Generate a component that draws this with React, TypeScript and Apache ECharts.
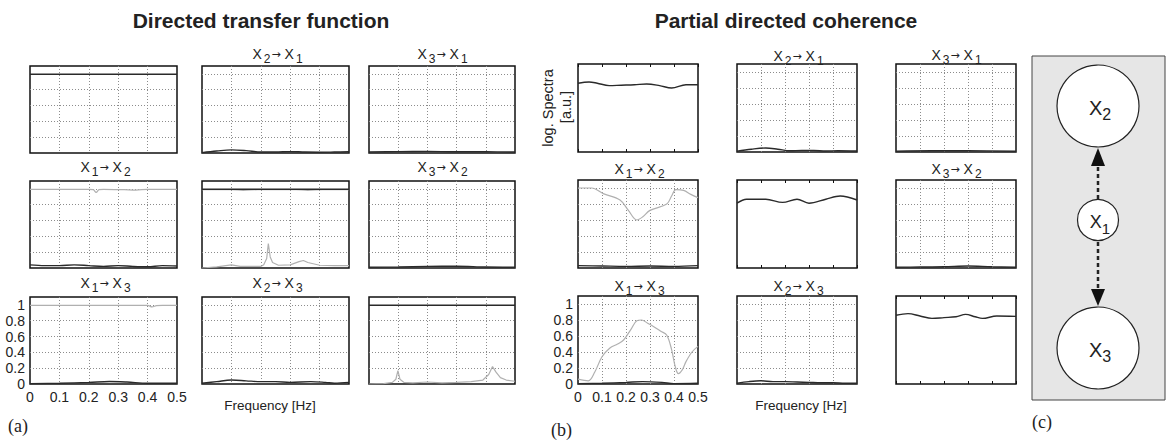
import React, { useEffect, useRef } from 'react';
import * as echarts from 'echarts';

type Pair = [number, number];

// ---------- data: [frequency (Hz), value] ----------
const freqTickLabels = ['0', '0.1', '0.2', '0.3', '0.4', '0.5'];
const valueTickLabels = ['0', '0.2', '0.4', '0.6', '0.8', '1'];

// Directed transfer function
const dtf11Dark: Pair[] = [[0, 0.995], [0.5, 0.995]];
const dtf21Dark: Pair[] = [[0, 0.005], [0.05, 0.025], [0.1, 0.04], [0.15, 0.03], [0.2, 0.012], [0.25, 0.012], [0.3, 0.018], [0.35, 0.012], [0.4, 0.01], [0.45, 0.012], [0.5, 0.015]];
const dtf31Dark: Pair[] = [[0, 0.012], [0.1, 0.018], [0.2, 0.02], [0.3, 0.015], [0.4, 0.015], [0.5, 0.012]];
const dtf12Gray: Pair[] = [[0, 0.995], [0.2, 0.995], [0.215, 0.99], [0.225, 0.955], [0.235, 0.99], [0.25, 0.995], [0.32, 0.99], [0.36, 0.985], [0.4, 0.995], [0.5, 0.995]];
const dtf12Dark: Pair[] = [[0, 0.04], [0.05, 0.03], [0.1, 0.03], [0.15, 0.04], [0.2, 0.03], [0.25, 0.02], [0.3, 0.03], [0.35, 0.02], [0.4, 0.015], [0.45, 0.03], [0.5, 0.025]];
const dtf22Dark: Pair[] = [[0, 0.995], [0.5, 0.995]];
const dtf22GrayTop: Pair[] = [[0, 0.99], [0.1, 0.99], [0.14, 0.982], [0.19, 0.99], [0.32, 0.99], [0.36, 0.982], [0.41, 0.99], [0.5, 0.99]];
const dtf22Gray: Pair[] = [[0, 0.0], [0.05, 0.015], [0.1, 0.04], [0.13, 0.02], [0.2, 0.02], [0.21, 0.04], [0.22, 0.12], [0.2256, 0.31], [0.232, 0.14], [0.24, 0.07], [0.26, 0.035], [0.3, 0.04], [0.33, 0.08], [0.345, 0.095], [0.36, 0.07], [0.4, 0.035], [0.45, 0.03], [0.5, 0.03]];
const dtf32Dark: Pair[] = [[0, 0.01], [0.1, 0.012], [0.2, 0.02], [0.3, 0.022], [0.4, 0.012], [0.5, 0.01]];
const dtf13Gray: Pair[] = [[0, 0.995], [0.4, 0.995], [0.415, 0.975], [0.43, 0.99], [0.45, 0.995], [0.5, 0.995]];
const dtf13Dark: Pair[] = [[0, 0.005], [0.1, 0.01], [0.2, 0.02], [0.27, 0.032], [0.33, 0.025], [0.4, 0.01], [0.5, 0.01]];
const dtf23Dark: Pair[] = [[0, 0.01], [0.05, 0.03], [0.1, 0.05], [0.15, 0.04], [0.2, 0.03], [0.25, 0.03], [0.3, 0.02], [0.37, 0.03], [0.42, 0.02], [0.45, 0.01], [0.5, 0.02]];
const dtf33Dark: Pair[] = [[0, 0.995], [0.5, 0.995]];
const dtf33Gray: Pair[] = [[0, 0.0], [0.05, 0.005], [0.08, 0.02], [0.092, 0.06], [0.099, 0.17], [0.106, 0.06], [0.12, 0.02], [0.15, 0.015], [0.2, 0.025], [0.25, 0.015], [0.3, 0.02], [0.35, 0.03], [0.39, 0.05], [0.41, 0.12], [0.423, 0.22], [0.435, 0.15], [0.45, 0.08], [0.47, 0.05], [0.5, 0.035]];

// Partial directed coherence
const pdc11Spec: Pair[] = [[0, 0.86], [0.046, 0.875], [0.08, 0.86], [0.13, 0.83], [0.18, 0.835], [0.235, 0.84], [0.286, 0.85], [0.34, 0.83], [0.39, 0.8], [0.45, 0.84], [0.5, 0.84]];
const pdc21Dark: Pair[] = [[0, 0.01], [0.06, 0.035], [0.12, 0.05], [0.17, 0.035], [0.22, 0.015], [0.27, 0.02], [0.32, 0.02], [0.37, 0.012], [0.42, 0.015], [0.5, 0.012]];
const pdc31Dark: Pair[] = [[0, 0.01], [0.15, 0.015], [0.3, 0.015], [0.5, 0.01]];
const pdc12Gray: Pair[] = [[0, 1.0], [0.057, 1.0], [0.105, 0.93], [0.175, 0.85], [0.21, 0.72], [0.245, 0.6], [0.27, 0.64], [0.3, 0.72], [0.37, 0.8], [0.39, 0.9], [0.408, 0.98], [0.44, 0.97], [0.47, 0.92], [0.5, 0.88]];
const pdc12Dark: Pair[] = [[0, 0.03], [0.1, 0.025], [0.2, 0.02], [0.3, 0.025], [0.4, 0.02], [0.5, 0.03]];
const pdc22Spec: Pair[] = [[0, 0.81], [0.04, 0.86], [0.12, 0.86], [0.19, 0.82], [0.25, 0.86], [0.3, 0.81], [0.37, 0.86], [0.43, 0.9], [0.5, 0.85]];
const pdc32Dark: Pair[] = [[0, 0.01], [0.1, 0.012], [0.2, 0.015], [0.3, 0.025], [0.4, 0.015], [0.5, 0.01]];
const pdc13Gray: Pair[] = [[0, 0.06], [0.043, 0.04], [0.07, 0.15], [0.1, 0.34], [0.133, 0.45], [0.165, 0.5], [0.19, 0.55], [0.22, 0.68], [0.245, 0.79], [0.265, 0.8], [0.29, 0.76], [0.314, 0.72], [0.345, 0.66], [0.37, 0.61], [0.39, 0.43], [0.405, 0.22], [0.418, 0.13], [0.435, 0.18], [0.45, 0.28], [0.475, 0.4], [0.5, 0.47]];
const pdc13Dark: Pair[] = [[0, 0.005], [0.1, 0.01], [0.2, 0.02], [0.27, 0.03], [0.35, 0.02], [0.4, 0.005], [0.5, 0.01]];
const pdc23Dark: Pair[] = [[0, 0.01], [0.05, 0.03], [0.1, 0.04], [0.15, 0.03], [0.2, 0.03], [0.25, 0.025], [0.3, 0.02], [0.35, 0.015], [0.4, 0.015], [0.45, 0.01], [0.5, 0.01]];
const pdc33Spec: Pair[] = [[0, 0.86], [0.05, 0.88], [0.1, 0.85], [0.15, 0.82], [0.2, 0.83], [0.25, 0.84], [0.29, 0.87], [0.33, 0.84], [0.36, 0.82], [0.42, 0.85], [0.5, 0.845]];

// ---------- style / layout ----------
const FONT = '"Liberation Sans", Arial, Helvetica, sans-serif';
const ARROW_FONT = '"DejaVu Sans", "Liberation Sans", sans-serif';
const SERIF = '"Liberation Serif", "Times New Roman", serif';
const DARK = '#2a2a2a';
const GRAY = '#b0b0b0';

type Curve = { data: Pair[]; color: string; smooth: boolean };
type Panel = { left: number; top: number; width: number; height: number; curves: Curve[]; spectrum: boolean; labels: boolean };

const dk = (data: Pair[], smooth = true): Curve => ({ data, color: DARK, smooth });
const gy = (data: Pair[], smooth = true): Curve => ({ data, color: GRAY, smooth });

const dtfX = [30, 202, 369];
const dtfY = [66, 181, 297];
const pdcX = [578, 737, 896];
const pdcY = [64, 180, 296];

const panels: Panel[] = [
  { left: dtfX[0], top: dtfY[0], width: 147, height: 87, curves: [dk(dtf11Dark)], spectrum: false, labels: false },
  { left: dtfX[1], top: dtfY[0], width: 147, height: 87, curves: [dk(dtf21Dark)], spectrum: false, labels: false },
  { left: dtfX[2], top: dtfY[0], width: 146, height: 87, curves: [dk(dtf31Dark)], spectrum: false, labels: false },
  { left: dtfX[0], top: dtfY[1], width: 147, height: 87, curves: [gy(dtf12Gray), dk(dtf12Dark)], spectrum: false, labels: false },
  { left: dtfX[1], top: dtfY[1], width: 147, height: 87, curves: [gy(dtf22GrayTop), gy(dtf22Gray, false), dk(dtf22Dark)], spectrum: false, labels: false },
  { left: dtfX[2], top: dtfY[1], width: 146, height: 87, curves: [dk(dtf32Dark)], spectrum: false, labels: false },
  { left: dtfX[0], top: dtfY[2], width: 147, height: 87, curves: [gy(dtf13Gray), dk(dtf13Dark)], spectrum: false, labels: true },
  { left: dtfX[1], top: dtfY[2], width: 147, height: 87, curves: [dk(dtf23Dark)], spectrum: false, labels: false },
  { left: dtfX[2], top: dtfY[2], width: 146, height: 87, curves: [gy(dtf33Gray, false), dk(dtf33Dark)], spectrum: false, labels: false },
  { left: pdcX[0], top: pdcY[0], width: 120, height: 88, curves: [dk(pdc11Spec)], spectrum: true, labels: false },
  { left: pdcX[1], top: pdcY[0], width: 120, height: 88, curves: [dk(pdc21Dark)], spectrum: false, labels: false },
  { left: pdcX[2], top: pdcY[0], width: 120, height: 88, curves: [dk(pdc31Dark)], spectrum: false, labels: false },
  { left: pdcX[0], top: pdcY[1], width: 120, height: 88, curves: [gy(pdc12Gray), dk(pdc12Dark)], spectrum: false, labels: false },
  { left: pdcX[1], top: pdcY[1], width: 120, height: 88, curves: [dk(pdc22Spec)], spectrum: true, labels: false },
  { left: pdcX[2], top: pdcY[1], width: 120, height: 88, curves: [dk(pdc32Dark)], spectrum: false, labels: false },
  { left: pdcX[0], top: pdcY[2], width: 120, height: 88, curves: [gy(pdc13Gray), dk(pdc13Dark)], spectrum: false, labels: true },
  { left: pdcX[1], top: pdcY[2], width: 120, height: 88, curves: [dk(pdc23Dark)], spectrum: false, labels: false },
  { left: pdcX[2], top: pdcY[2], width: 120, height: 88, curves: [dk(pdc33Spec)], spectrum: true, labels: false },
];

// subplot titles: [centerX, centerY, from, to]
const arrowTitles: [number, number, string, string][] = [
  [276, 54, '2', '1'], [441, 54, '3', '1'],
  [104, 167, '1', '2'], [441, 167, '3', '2'],
  [104, 283, '1', '3'], [276, 283, '2', '3'],
  [797, 56, '2', '1'], [955, 55, '3', '1'],
  [638, 169, '1', '2'], [955, 169, '3', '2'],
  [638, 286, '1', '3'], [797, 286, '2', '3'],
];

function arrowTitle(cx: number, cy: number, a: string, b: string) {
  return {
    type: 'text', x: cx, y: cy, silent: true,
    style: {
      text: `{x|X}{s|${a}}{r|→}{x|X}{s|${b}}`,
      align: 'center', verticalAlign: 'middle',
      rich: {
        x: { fontSize: 14, fontFamily: FONT, fill: '#222', padding: [0, 1, 0, 3] },
        s: { fontSize: 12, fontFamily: FONT, fill: '#222', padding: [10, 0, 0, 1] },
        r: { fontSize: 11, fontFamily: ARROW_FONT, fill: '#222', padding: [0, 1, 0, 1] },
      },
    },
  };
}

function nodeLabel(cx: number, cy: number, idx: string, big: boolean) {
  return {
    type: 'text', x: cx, y: cy, silent: true, z: 20,
    style: {
      text: `{x|X}{s|${idx}}`,
      align: 'center', verticalAlign: 'middle',
      rich: {
        x: { fontSize: big ? 20 : 18, fontFamily: FONT, fill: '#222' },
        s: { fontSize: big ? 16 : 15, fontFamily: FONT, fill: '#222', padding: [12, 0, 0, 0] },
      },
    },
  };
}

export default function App() {
  const ref = useRef<HTMLDivElement>(null);
  useEffect(() => {
    if (!ref.current) return;
    const chart = echarts.init(ref.current, undefined, { renderer: 'svg' });

    const grid: any[] = [];
    const xAxis: any[] = [];
    const yAxis: any[] = [];
    const series: any[] = [];

    panels.forEach((p, i) => {
      grid.push({ left: p.left, top: p.top, width: p.width, height: p.height, show: true, borderColor: '#111', borderWidth: 1.5, backgroundColor: '#fff', z: 0 });
      xAxis.push({
        type: 'value', gridIndex: i, min: 0, max: 0.5, interval: 0.1,
        axisLine: { show: false },
        axisTick: { show: p.spectrum, inside: true, length: 3, lineStyle: { color: '#111', width: 1 } },
        axisLabel: {
          show: p.labels, fontSize: 14, fontFamily: FONT, color: '#222', margin: 6,
          formatter: (v: number) => freqTickLabels[Math.round(v * 10)] ?? '',
        },
        splitLine: { show: !p.spectrum, showMinLine: false, showMaxLine: false, lineStyle: { type: [1, 2], color: '#8c8c8c', width: 1 } },
      });
      yAxis.push({
        type: 'value', gridIndex: i, min: 0, max: 1.1, interval: 0.2,
        axisLine: { show: false },
        axisTick: { show: false },
        axisLabel: {
          show: p.labels, fontSize: 14, fontFamily: FONT, color: '#222', margin: 5,
          formatter: (v: number) => (v > 1.05 ? '' : valueTickLabels[Math.round(v * 5)] ?? ''),
        },
        splitLine: { show: !p.spectrum, showMinLine: false, showMaxLine: false, lineStyle: { type: [1, 2], color: '#8c8c8c', width: 1 } },
      });
      p.curves.forEach((c) => {
        series.push({
          type: 'line', xAxisIndex: i, yAxisIndex: i, data: c.data,
          showSymbol: false, smooth: c.smooth ? 0.35 : false, silent: true,
          lineStyle: { color: c.color, width: c.color === DARK ? 1.4 : 1.2 },
          z: c.color === DARK ? 3 : 2,
        });
      });
    });

    // top-edge ticks for the spectrum panels
    panels.forEach((p, i) => {
      if (!p.spectrum) return;
      xAxis.push({
        type: 'value', gridIndex: i, min: 0, max: 0.5, interval: 0.1, position: 'top',
        axisLine: { show: false }, axisLabel: { show: false }, splitLine: { show: false },
        axisTick: { show: true, inside: true, length: 3, lineStyle: { color: '#111', width: 1 } },
      });
    });

    const graphic: any[] = [
      { type: 'text', x: 261, y: 20, silent: true, style: { text: 'Directed transfer function', font: `bold 21px ${FONT}`, fill: '#222', align: 'center', verticalAlign: 'middle' } },
      { type: 'text', x: 786, y: 20, silent: true, style: { text: 'Partial directed coherence', font: `bold 21px ${FONT}`, fill: '#222', align: 'center', verticalAlign: 'middle' } },
      ...arrowTitles.map(([x, y, a, b]) => arrowTitle(x, y, a, b)),
      { type: 'text', x: 548, y: 108, rotation: Math.PI / 2, silent: true, style: { text: 'log. Spectra', font: `14.5px ${FONT}`, fill: '#222', align: 'center', verticalAlign: 'middle' } },
      { type: 'text', x: 566, y: 107, rotation: Math.PI / 2, silent: true, style: { text: '[a.u.]', font: `14.5px ${FONT}`, fill: '#222', align: 'center', verticalAlign: 'middle' } },
      { type: 'text', x: 270, y: 405, silent: true, style: { text: 'Frequency [Hz]', font: `13.5px ${FONT}`, fill: '#222', align: 'center', verticalAlign: 'middle' } },
      { type: 'text', x: 801, y: 405, silent: true, style: { text: 'Frequency [Hz]', font: `13.5px ${FONT}`, fill: '#222', align: 'center', verticalAlign: 'middle' } },
      { type: 'text', x: 8, y: 426, silent: true, style: { text: '(a)', font: `18px ${SERIF}`, fill: '#222', align: 'left', verticalAlign: 'middle' } },
      { type: 'text', x: 551, y: 430, silent: true, style: { text: '(b)', font: `18px ${SERIF}`, fill: '#222', align: 'left', verticalAlign: 'middle' } },
      { type: 'text', x: 1032, y: 422, silent: true, style: { text: '(c)', font: `18px ${SERIF}`, fill: '#222', align: 'left', verticalAlign: 'middle' } },
      // diagram (c)
      { type: 'rect', silent: true, z: 10, shape: { x: 1032, y: 56, width: 133, height: 344 }, style: { fill: '#e6e6e6', stroke: '#444', lineWidth: 1 } },
      { type: 'line', silent: true, z: 11, shape: { x1: 1098, y1: 199, x2: 1098, y2: 166 }, style: { stroke: '#222', lineWidth: 2.5, lineDash: [4, 3] } },
      { type: 'polygon', silent: true, z: 11, shape: { points: [[1098, 148], [1091, 166], [1105, 166]] }, style: { fill: '#111' } },
      { type: 'line', silent: true, z: 11, shape: { x1: 1098, y1: 242, x2: 1098, y2: 290 }, style: { stroke: '#222', lineWidth: 2.5, lineDash: [4, 3] } },
      { type: 'polygon', silent: true, z: 11, shape: { points: [[1098, 306], [1091, 289], [1105, 289]] }, style: { fill: '#111' } },
      { type: 'circle', silent: true, z: 12, shape: { cx: 1098, cy: 106, r: 41 }, style: { fill: '#fff', stroke: '#222', lineWidth: 1.2 } },
      { type: 'circle', silent: true, z: 12, shape: { cx: 1098, cy: 220, r: 20.5 }, style: { fill: '#fff', stroke: '#222', lineWidth: 1.2 } },
      { type: 'circle', silent: true, z: 12, shape: { cx: 1098, cy: 348, r: 41 }, style: { fill: '#fff', stroke: '#222', lineWidth: 1.2 } },
      nodeLabel(1100, 108, '2', true),
      nodeLabel(1100, 222, '1', false),
      nodeLabel(1100, 350, '3', true),
    ];

    chart.setOption({
      animation: false,
      backgroundColor: '#fff',
      grid, xAxis, yAxis, series, graphic,
    });
    return () => chart.dispose();
  }, []);

  return <div ref={ref} style={{ position: 'absolute', left: 0, top: 0, width: 1167, height: 442, background: '#fff' }} />;
}
